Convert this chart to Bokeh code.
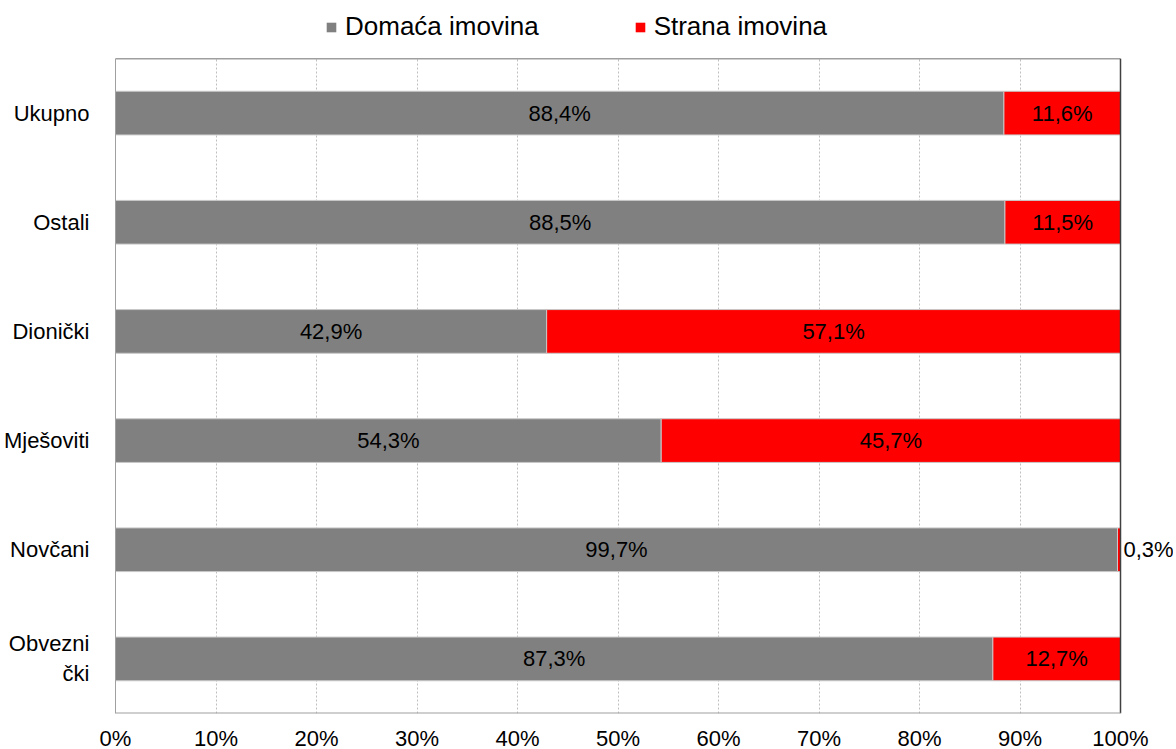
from bokeh.plotting import figure
from bokeh.layouts import column
from bokeh.models import (ColumnDataSource, FactorRange, Range1d, FixedTicker,
                          PrintfTickFormatter, Legend, LegendItem, LabelSet)
from bokeh.core.properties import value
from bokeh.embed import file_html
from bokeh.resources import INLINE

categories = ["Ukupno", "Ostali", "Dionički", "Mješoviti", "Novčani", "Obvezni\nčki"]
domestic = [88.4, 88.5, 42.9, 54.3, 99.7, 87.3]
foreign = [11.6, 11.5, 57.1, 45.7, 0.3, 12.7]
series_names = ["Domaća imovina", "Strana imovina"]
colors = ["#808080", "#ff0000"]
x_ticks = [0, 10, 20, 30, 40, 50, 60, 70, 80, 90, 100]

FONT = "Liberation Sans"
XMAX = x_ticks[-1]
NCAT = len(categories)
FRAME_W = 1058
PX_PER_UNIT = 10.05

def fmt(v):
    return f"{v:.1f}".replace(".", ",") + "%"

src = ColumnDataSource(dict(
    cat=categories,
    dom=domestic,
    tot=[d + f for d, f in zip(domestic, foreign)],
    zero=[0] * NCAT,
))

# x range extends a little past 100% so the outside label "0,3%" is not clipped;
# the plot-area border is drawn at 100%.
p = figure(
    y_range=FactorRange(*reversed(categories)),
    x_range=Range1d(0, FRAME_W / PX_PER_UNIT),
    frame_width=FRAME_W, frame_height=655,
    output_backend="svg", toolbar_location=None,
    min_border_left=110, min_border_right=0, min_border_top=8, min_border_bottom=30,
    background_fill_color="white", border_fill_color="white",
)
p.outline_line_color = None

r_dom = p.hbar(y="cat", left="zero", right="dom", height=0.4, source=src,
               fill_color=colors[0], line_color="#c8c8c8", line_width=1)
r_for = p.hbar(y="cat", left="dom", right="tot", height=0.4, source=src,
               fill_color=colors[1], line_color="#c8c8c8", line_width=1)

# plot-area border (top + right dark, bottom gray)
p.segment(x0=[0, XMAX], y0=[NCAT, 0], x1=[XMAX, XMAX], y1=[NCAT, NCAT],
          line_color="#404040", line_width=1.5)
p.segment(x0=[0], y0=[0], x1=[XMAX], y1=[0], line_color="#a0a0a0", line_width=2)

# Data labels
cx, cy, ct, lx, ly, lt = [], [], [], [], [], []
for c, d, f in zip(categories, domestic, foreign):
    cx.append(d / 2); cy.append(c); ct.append(fmt(d))
    if f < 2:
        lx.append(d + f); ly.append(c); lt.append(fmt(f))
    else:
        cx.append(d + f / 2); cy.append(c); ct.append(fmt(f))
csrc = ColumnDataSource(dict(x=cx, y=cy, t=ct))
lsrc = ColumnDataSource(dict(x=lx, y=ly, t=lt))
p.add_layout(LabelSet(x="x", y="y", text="t", source=csrc, text_align="center",
                      text_baseline="middle", text_font_size="22px", text_color="black",
                      text_font=value(FONT)))
p.add_layout(LabelSet(x="x", y="y", text="t", source=lsrc, text_align="left", x_offset=3,
                      text_baseline="middle", text_font_size="22px", text_color="black",
                      text_font=value(FONT)))

# Axes
p.xaxis.ticker = FixedTicker(ticks=x_ticks)
p.xaxis.formatter = PrintfTickFormatter(format="%d%%")
for ax in (p.xaxis[0], p.yaxis[0]):
    ax.major_label_text_font = FONT
    ax.major_label_text_font_size = "22px"
    ax.major_label_text_color = "black"
    ax.major_tick_line_color = None
    ax.minor_tick_line_color = None
p.yaxis.axis_line_color = "#a0a0a0"
p.xaxis.axis_line_color = None
p.xaxis.major_label_standoff = 6
p.yaxis.major_label_standoff = 20

p.xgrid.ticker = FixedTicker(ticks=x_ticks[1:-1])
p.xgrid.grid_line_color = "#bfbfbf"
p.xgrid.grid_line_dash = "2 2"
p.ygrid.grid_line_color = None

# Legend in its own strip above the chart
lf = figure(width=110 + FRAME_W, height=50, x_range=Range1d(0, 1), y_range=Range1d(0, 1),
            output_backend="svg", toolbar_location=None,
            min_border=0, min_border_left=0, min_border_right=0,
            min_border_top=0, min_border_bottom=0)
lf.axis.visible = False
lf.grid.visible = False
lf.outline_line_color = None
dummy = ColumnDataSource(dict(y=[-5], r=[-5]))  # off-screen, only for legend swatches
l_dom = lf.hbar(y="y", right="r", height=0.1, source=dummy, fill_color=colors[0], line_color=None)
l_for = lf.hbar(y="y", right="r", height=0.1, source=dummy, fill_color=colors[1], line_color=None)
legend = Legend(items=[LegendItem(label=series_names[0], renderers=[l_dom]),
                       LegendItem(label=series_names[1], renderers=[l_for])],
                orientation="horizontal", location=(210, 8),
                label_text_font=FONT, label_text_font_size="26px",
                label_text_color="black",
                glyph_width=12, glyph_height=12, label_standoff=8, spacing=95,
                padding=0, margin=0, border_line_color=None,
                background_fill_alpha=0)
lf.add_layout(legend, "center")

layout = column(lf, p, spacing=0)
open("out.html", "w").write(file_html(layout, INLINE))
